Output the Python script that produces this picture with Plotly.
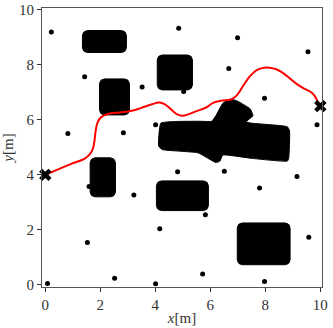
import numpy as np
import plotly.graph_objects as go

# rectangular obstacles (data units)
rect_x0 = [1.35, 1.97, 4.07, 1.63, 4.04, 6.98]
rect_x1 = [2.95, 3.06, 5.35, 2.55, 5.93, 8.90]
rect_y0 = [8.45, 6.18, 7.09, 3.20, 2.70, 0.73]
rect_y1 = [9.25, 7.49, 8.36, 4.62, 3.78, 2.25]

# irregular cross-shaped obstacle outline
cross_x = [4.12, 4.20, 4.70, 5.60, 6.05, 6.20, 6.45, 6.70, 6.95, 7.45, 7.55, 7.30,
           7.50, 8.80, 8.88, 8.85, 8.80, 7.50, 6.45, 6.35, 6.20, 5.55, 4.25, 4.12]
cross_y = [5.05, 5.88, 5.94, 5.95, 5.95, 6.15, 6.60, 6.75, 6.70, 6.40, 6.15, 5.93,
           5.88, 5.75, 5.60, 4.60, 4.50, 4.60, 4.72, 4.50, 4.45, 4.80, 4.92, 5.05]

# sample points
pts_x = [0.22, 1.43, 3.52, 0.82, 2.84, 4.01, 4.85, 6.99, 9.55, 6.67, 5.03, 7.97, 9.88, 4.81,
         6.51, 9.15, 7.79, 5.82, 9.58, 5.72, 7.97, 1.59, 3.22, 1.53, 4.16, 0.08, 2.52, 4.01]
pts_y = [9.20, 7.57, 7.20, 5.50, 5.53, 5.82, 9.33, 8.99, 8.48, 7.87, 7.03, 6.79, 5.82, 4.11,
         4.13, 3.94, 3.52, 2.55, 1.73, 0.39, 0.12, 3.58, 3.27, 1.54, 2.04, 0.05, 0.24, 0.04]

# planned path
path_x = [0.0, 0.9, 1.45, 1.62, 1.73, 1.79, 1.83, 1.90, 2.03, 2.30, 2.70, 3.10, 3.45, 3.85,
          4.15, 4.35, 4.60, 4.80, 4.97, 5.20, 5.50, 5.85, 6.10, 6.40, 6.75, 6.97, 7.20,
          7.45, 7.70, 7.95, 8.15, 8.40, 8.65, 8.90, 9.15, 9.45, 9.70, 9.85, 9.94, 10.0]
path_y = [4.00, 4.38, 4.60, 4.75, 4.95, 5.25, 5.60, 5.90, 6.10, 6.22, 6.27, 6.32, 6.42, 6.56,
          6.63, 6.56, 6.36, 6.20, 6.15, 6.20, 6.32, 6.45, 6.62, 6.70, 6.74, 6.90, 7.25,
          7.60, 7.82, 7.90, 7.90, 7.84, 7.70, 7.50, 7.30, 7.12, 6.98, 6.78, 6.55, 6.50]

start_end_x = [0.0, 10.0]
start_end_y = [4.0, 6.5]

tick_vals = [0, 2, 4, 6, 8, 10]

SERIF = 'Liberation Serif, DejaVu Serif, serif'


def rounded_rect(x0, x1, y0, y1, r=0.18):
    t = np.linspace(0, np.pi / 2, 8)
    xs, ys = [], []
    for cx, cy, a in [(x1 - r, y1 - r, 0), (x0 + r, y1 - r, np.pi / 2),
                      (x0 + r, y0 + r, np.pi), (x1 - r, y0 + r, 1.5 * np.pi)]:
        xs += list(cx + r * np.cos(t + a))
        ys += list(cy + r * np.sin(t + a))
    return xs + xs[:1], ys + ys[:1]


fig = go.Figure()

for x0, x1, y0, y1 in zip(rect_x0, rect_x1, rect_y0, rect_y1):
    xs, ys = rounded_rect(x0, x1, y0, y1)
    fig.add_trace(go.Scatter(x=xs, y=ys, mode='lines', fill='toself', fillcolor='black',
                             line=dict(color='black', width=1), hoverinfo='skip'))

fig.add_trace(go.Scatter(x=cross_x, y=cross_y, mode='lines', fill='toself', fillcolor='black',
                         line=dict(color='black', width=1, shape='spline', smoothing=0.4),
                         hoverinfo='skip'))

fig.add_trace(go.Scatter(x=pts_x, y=pts_y, mode='markers',
                         marker=dict(color='black', size=5)))

fig.add_trace(go.Scatter(x=path_x, y=path_y, mode='lines',
                         line=dict(color='red', width=2, shape='spline')))

fig.add_trace(go.Scatter(x=start_end_x, y=start_end_y, mode='markers', cliponaxis=False,
                         marker=dict(color='black', size=11, symbol='x')))

axis_style = dict(
    showgrid=False,
    zeroline=False,
    showline=True,
    linecolor='#555',
    linewidth=1,
    mirror=True,
    ticks='outside',
    ticklen=4,
    tickcolor='#333',
    tickvals=tick_vals,
    automargin=False,
    tickfont=dict(family=SERIF, size=15, color='#333'),
)

fig.update_layout(
    width=333,
    height=328,
    margin=dict(l=42, r=11, t=8, b=41),
    plot_bgcolor='white',
    paper_bgcolor='white',
    showlegend=False,
    font=dict(family=SERIF),
    xaxis=dict(range=[-0.12, 10.06],
               title=dict(text='<i>x</i>[m]', standoff=0,
                          font=dict(family=SERIF, size=15, color='#333')),
               **axis_style),
    yaxis=dict(range=[-0.08, 10.07],
               title=dict(text='<i>y</i>[m]', standoff=2,
                          font=dict(family=SERIF, size=15, color='#333')),
               **axis_style),
)

# drop the default page margin so the figure sits at the window's corner
fig.write_html("out.html", config={'displayModeBar': False},
               post_script="document.body.style.margin='0';")
